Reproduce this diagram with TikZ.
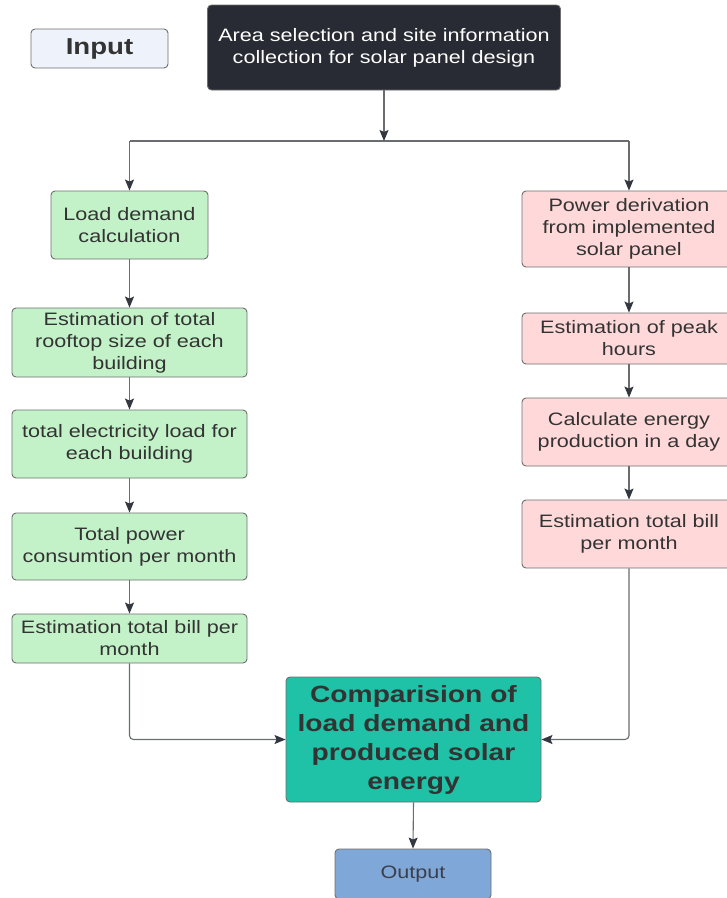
\documentclass[tikz,border=0pt]{standalone}
\usepackage{fontspec}
\setmainfont{Liberation Sans}[FakeStretch=1.2]
\usetikzlibrary{arrows.meta,positioning}
\definecolor{darkbox}{HTML}{282B33}
\definecolor{inputfill}{HTML}{EEF2FA}
\definecolor{greenfill}{HTML}{C3F2C8}
\definecolor{pinkfill}{HTML}{FFD9DA}
\definecolor{tealfill}{HTML}{1FC2A6}
\definecolor{outfill}{HTML}{7FA7D8}
\definecolor{boxline}{HTML}{6E6E6E}
\definecolor{txt}{HTML}{333333}
\definecolor{outtxt}{HTML}{3A3F4C}
\definecolor{conn}{HTML}{6A6C70}
\definecolor{tipc}{HTML}{33373F}
\begin{document}
\begin{tikzpicture}[x=1pt,y=-1pt,
  box/.style={draw=boxline,line width=0.9pt,rounded corners=4pt,align=center,inner sep=0pt,
    text=txt,font=\fontsize{18}{22}\selectfont},
  gbox/.style={box,fill=greenfill},
  pbox/.style={box,fill=pinkfill},
  conline/.style={draw=conn,line width=1.1pt,rounded corners=4pt},
  arr/.style={conline,-{Stealth[length=11pt,width=9pt,inset=2pt,color=tipc]}}]
\useasboundingbox (0,0) rectangle (727,898);
% nodes
\node[box,fill=inputfill,minimum width=137pt,minimum height=39pt,font=\fontsize{23}{27}\selectfont\bfseries] (input) at (99.5,48.5) {Input};
\node[box,fill=darkbox,text=white,minimum width=353pt,minimum height=85pt] (top) at (384,47.5)
  {Area selection and site information\\collection for solar panel design};
\node[gbox,minimum width=157pt,minimum height=68pt] (load) at (129.5,225) {Load demand\\calculation};
\node[gbox,minimum width=235pt,minimum height=69pt] (roof) at (129.5,342.5) {Estimation of total\\rooftop size of each\\building};
\node[gbox,minimum width=235pt,minimum height=68pt] (elec) at (129.5,444) {total electricity load for\\each building};
\node[gbox,minimum width=235pt,minimum height=67pt] (tpow) at (129.5,546.5) {Total power\\consumtion per month};
\node[gbox,minimum width=235pt,minimum height=49pt] (lbill) at (129.5,638.5) {Estimation total bill per\\month};
\node[pbox,minimum width=214pt,minimum height=76pt] (power) at (629,229) {Power derivation\\from implemented\\solar panel};
\node[pbox,minimum width=214pt,minimum height=51pt] (peak) at (629,338.5) {Estimation of peak\\hours};
\node[pbox,minimum width=214pt,minimum height=68pt] (calc) at (629,432) {Calculate energy\\production in a day};
\node[pbox,minimum width=214pt,minimum height=68pt] (rbill) at (629,534) {Estimation total bill\\per month};
\node[box,fill=tealfill,minimum width=255pt,minimum height=125pt,font=\fontsize{23.5}{29}\selectfont\bfseries] (comp) at (413.5,739.5)
  {Comparision of\\load demand and\\produced solar\\energy};
\node[box,fill=outfill,text=outtxt,minimum width=156pt,minimum height=50pt] (out) at (413,874) {Output};
% connectors
\coordinate (split) at (384,141);
\draw[arr] (top.south) -- (split);
\draw[conline] (load.north |- split) -- (power.north |- split);
\draw[arr] (load.north |- split) -- (load.north);
\draw[arr] (power.north |- split) -- (power.north);
\draw[arr] (load.south) -- (roof.north);
\draw[arr] (roof.south) -- (elec.north);
\draw[arr] (elec.south) -- (tpow.north);
\draw[arr] (tpow.south) -- (lbill.north);
\draw[arr] (power.south) -- (peak.north);
\draw[arr] (peak.south) -- (calc.north);
\draw[arr] (calc.south) -- (rbill.north);
\draw[arr] (lbill.south) -- (lbill.south |- comp.west) -- (comp.west);
\draw[arr] (rbill.south) -- (rbill.south |- comp.east) -- (comp.east);
\draw[arr] (comp.south) -- (out.north);
\end{tikzpicture}
\end{document}
